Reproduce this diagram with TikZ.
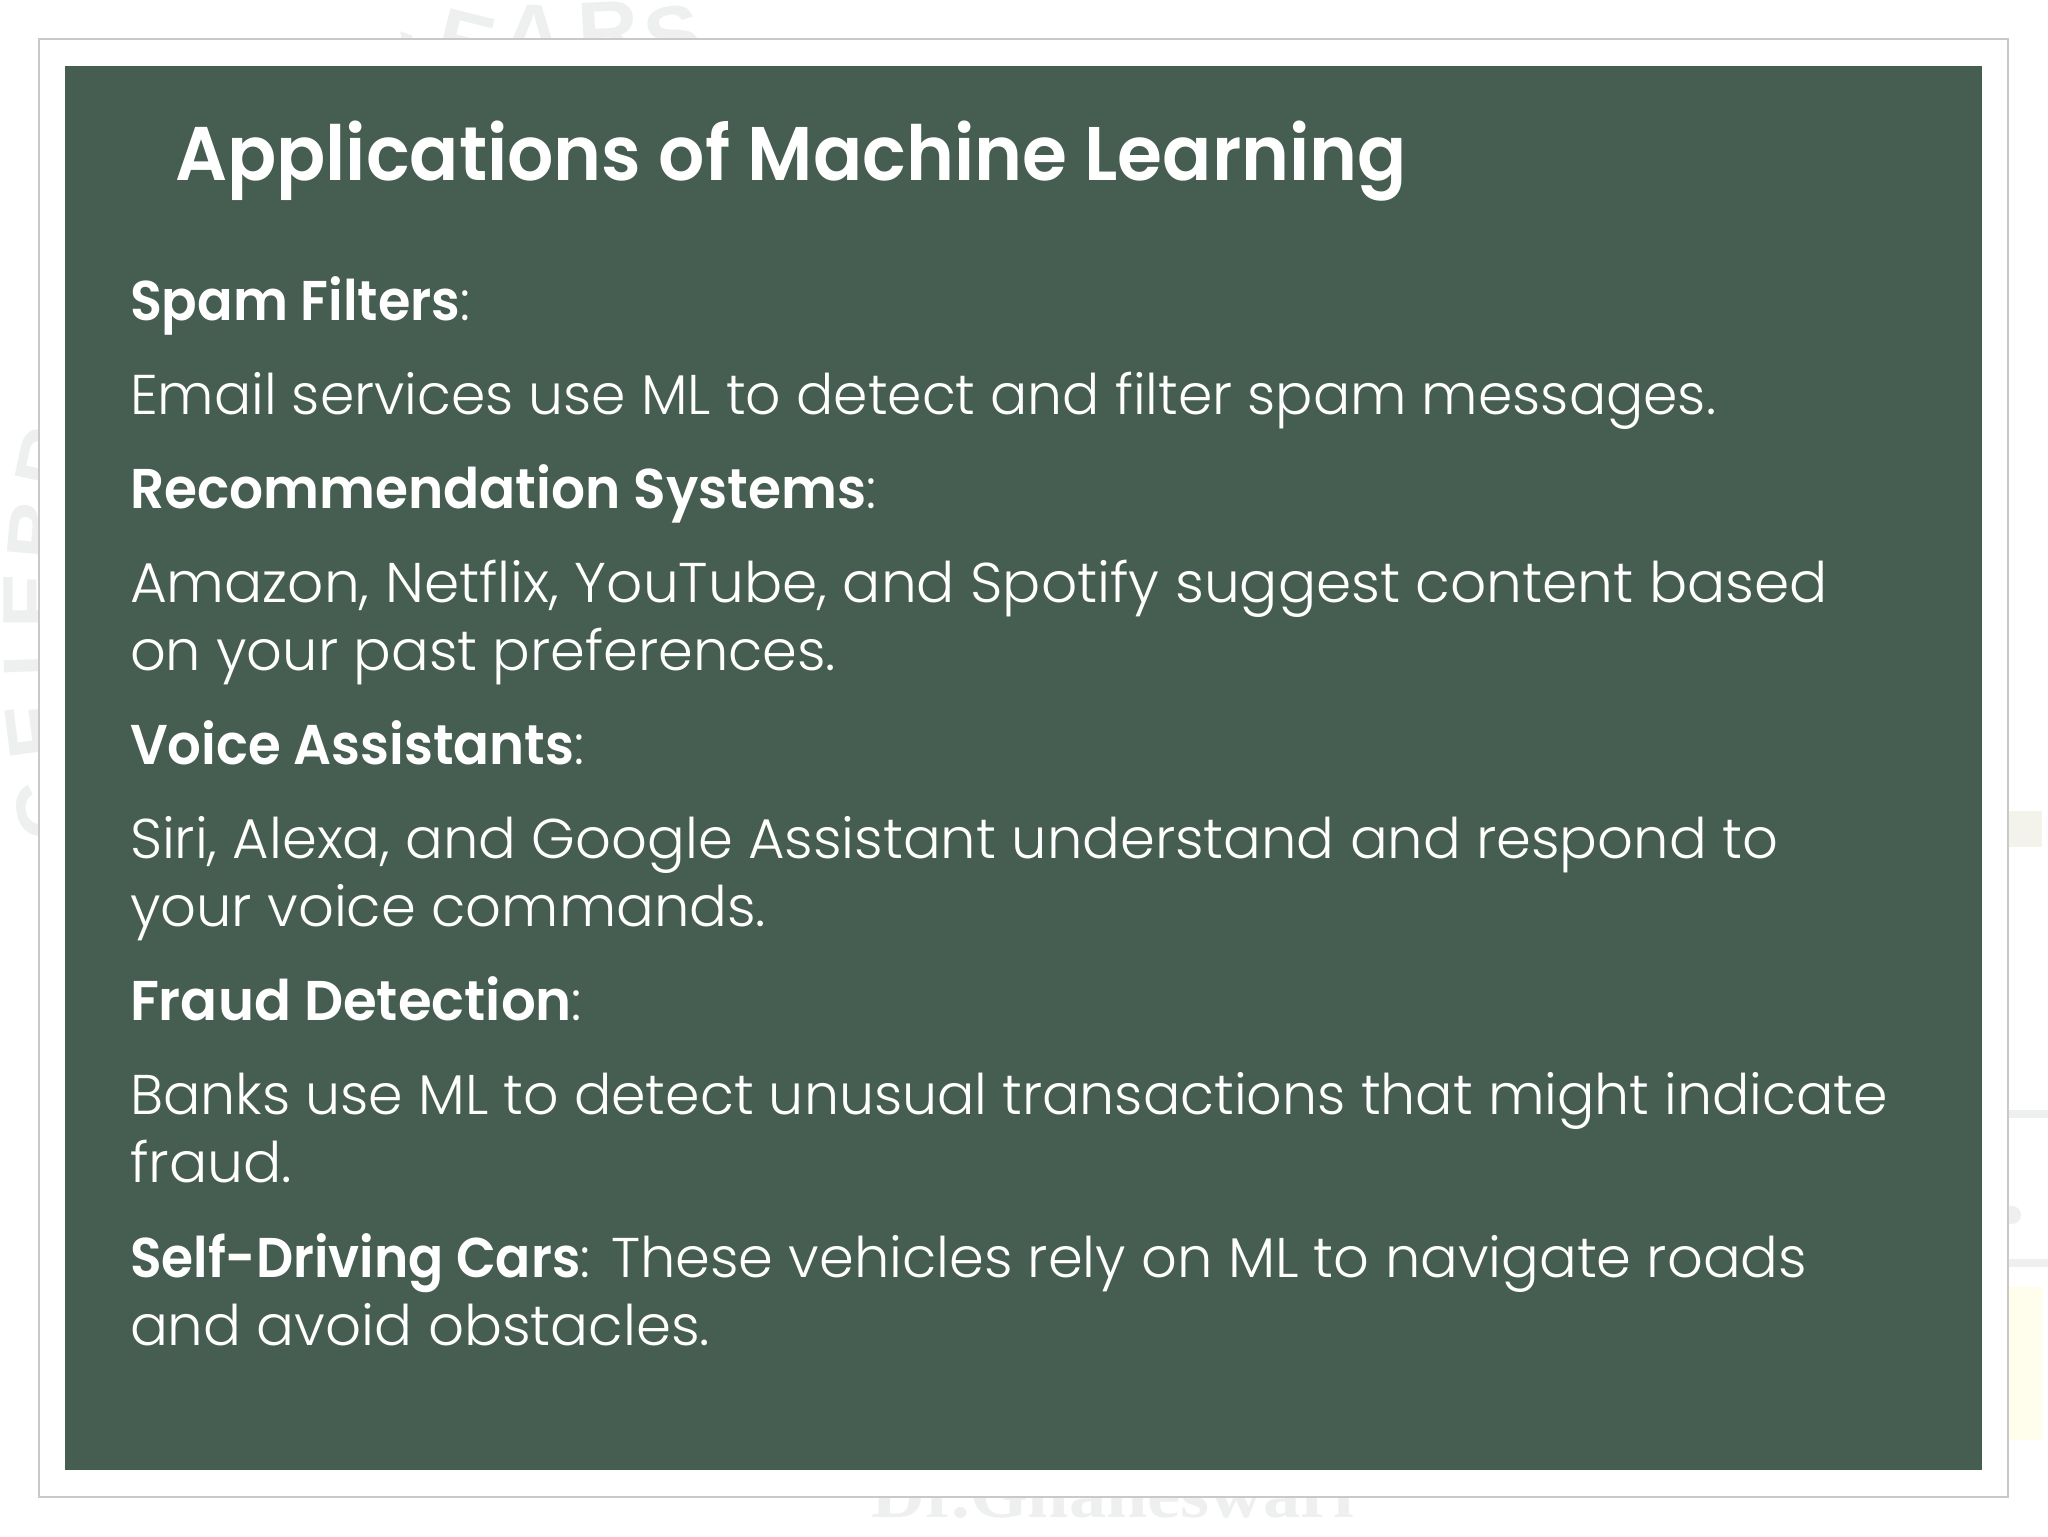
\documentclass[tikz,border=0pt]{standalone}
\usepackage{fontspec}
\usepackage{graphicx}
\setmainfont{Poppins}[UprightFont=* Light,BoldFont=* SemiBold]
\newfontfamily\ghostserif{Liberation Serif}[BoldFont=* Bold]
\newfontfamily\ghostsans{Liberation Sans}[BoldFont=* Bold]
\definecolor{panelgreen}{HTML}{465E51}
\definecolor{framegray}{HTML}{C9C9C9}
\definecolor{ghost}{HTML}{EEEFEF}
\definecolor{ghostolive}{HTML}{F3F3EC}
\definecolor{ghostyellow}{HTML}{FFFDEB}
\newcommand\fitw[2]{\resizebox{#1}{\height}{#2}}
\tikzset{
  line/.style={anchor=base west,inner sep=0pt,outer sep=0pt,text=white,font=\fontsize{28}{28}\selectfont},
  titleline/.style={line,font=\fontsize{38}{38}\selectfont\bfseries},
  ghostletter/.style={inner sep=0pt,text=ghost,font=\ghostsans\bfseries\fontsize{42}{42}\selectfont},
  ghostbar/.style={fill=ghost,draw=none},
}
\begin{document}
\begin{tikzpicture}[x=0.5pt,y=-0.5pt]
\useasboundingbox (0,0) rectangle (2048,1536);
% watermark remains outside the frame
\node[ghostletter,rotate=100] (wc) at (47,810) {C};
\node[ghostletter,rotate=97] (we) at (36,730) {E};
\node[ghostletter,rotate=92] (wl) at (33,652) {L};
\node[ghostletter,rotate=90] (wf) at (33,600) {E};
\node[ghostletter,rotate=85] (wb) at (38,530) {B};
\node[ghostletter,rotate=78] (wr) at (49,458) {R};
\node[ghostletter,rotate=-20] (ty) at (416,68) {Y};
\node[ghostletter,rotate=-14] (te) at (466,42) {E};
\node[ghostletter,rotate=-3] (ta) at (533,34) {A};
\node[ghostletter,rotate=3] (tr) at (608,31) {R};
\node[ghostletter,rotate=10] (ts) at (673,36) {S};
\node[anchor=base west,inner sep=0pt,text=ghost,font=\ghostserif\bfseries\fontsize{34}{34}\selectfont] (wname) at (871,1517) {\fitw{241.5pt}{Dr.Gnaneswari}};
\fill[fill=ghostolive] (2000,811) rectangle (2042,847);
\fill[ghostbar] (2000,1110) rectangle (2048,1118);
\fill[ghostbar] (2000,1206) rectangle (2012,1224);
\fill[ghostbar] (2012,1215) circle (9);
\fill[ghostbar] (2000,1259) rectangle (2048,1267);
\fill[fill=ghostyellow] (2000,1287) rectangle (2042,1440);
% frame and panel
\draw[draw=framegray,fill=white,line width=1pt] (39,39) rectangle (2008,1497);
\fill[panelgreen] (65,66) rectangle (1982,1470);
% text
\node[titleline] (title) at (175,180) {\fitw{616pt}{Applications of Machine Learning}};
\node[line] (l1) at (130,320) {\fitw{170pt}{\textbf{Spam Filters}:}};
\node[line] (l2) at (130,414) {\fitw{793pt}{Email services use ML to detect and filter spam messages.}};
\node[line] (l3) at (130,508) {\fitw{373pt}{\textbf{Recommendation Systems}:}};
\node[line] (l4) at (130,602) {\fitw{849pt}{Amazon, Netflix, YouTube, and Spotify suggest content based}};
\node[line] (l5) at (130,670) {\fitw{353pt}{on your past preferences.}};
\node[line] (l6) at (130,764) {\fitw{227pt}{\textbf{Voice Assistants}:}};
\node[line] (l7) at (130,858) {\fitw{824pt}{Siri, Alexa, and Google Assistant understand and respond to}};
\node[line] (l8) at (130,926) {\fitw{318pt}{your voice commands.}};
\node[line] (l9) at (130,1020) {\fitw{226pt}{\textbf{Fraud Detection}:}};
\node[line] (l10) at (130,1114) {\fitw{879pt}{Banks use ML to detect unusual transactions that might indicate}};
\node[line] (l11) at (130,1182) {\fitw{81pt}{fraud.}};
\node[line] (l12) at (130,1277) {\fitw{230pt}{\textbf{Self-Driving Cars}:}};
\node[line] (l12b) at (611,1277) {\fitw{598pt}{These vehicles rely on ML to navigate roads}};
\node[line] (l13) at (130,1345) {\fitw{290pt}{and avoid obstacles.}};
\end{tikzpicture}
\end{document}
